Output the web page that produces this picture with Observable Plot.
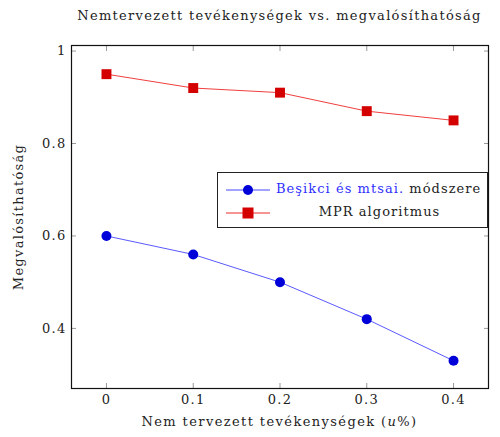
<!DOCTYPE html>
<html>
<head>
<meta charset="utf-8">
<script src="https://cdn.jsdelivr.net/npm/d3@7"></script>
<script src="https://cdn.jsdelivr.net/npm/@observablehq/plot@0.6"></script>
<style>
  body { margin: 0; background: #fff; }
  #wrap { position: relative; width: 500px; height: 437px; font-family: 'DejaVu Serif', serif; color: #222; }
  #title { position: absolute; left: 71px; width: 417px; top: 8px; text-align: center; font-size: 13px; letter-spacing: 1.3px; white-space: nowrap; }
  #xlabel { position: absolute; left: 71px; width: 417px; top: 414px; text-align: center; font-size: 13px; letter-spacing: 1.4px; white-space: nowrap; }
  #legend { position: absolute; left: 217px; top: 172px; width: 271px; height: 56px; box-sizing: border-box;
            border: 1px solid #222; background: #fff; font-size: 13px; letter-spacing: 1.05px; }
  #legend .row { position: absolute; left: 0; right: 0; height: 20px; }
  #legend svg { position: absolute; left: 8px; top: 0; }
  #legend .txt { position: absolute; top: 1px; white-space: nowrap; }
</style>
</head>
<body>
<div id="wrap">
  <div id="title">Nemtervezett tevékenységek vs. megvalósíthatóság</div>
  <div id="xlabel">Nem tervezett tevékenységek (<i>u</i>%)</div>
</div>
<script>
// Share of unplanned activities (u) and the resulting feasibility of each method
const uValues = [0, 0.1, 0.2, 0.3, 0.4];
const besikci = [0.60, 0.56, 0.50, 0.42, 0.33];
const mpr = [0.95, 0.92, 0.91, 0.87, 0.85];

const xTicks = [0, 0.1, 0.2, 0.3, 0.4];
const yTicks = [0.4, 0.6, 0.8, 1];

const seriesNames = ["Beşikci és mtsai. módszere", "MPR algoritmus"];
const blue = "#0000d8";
const red = "#d40000";

const rowsB = uValues.map((u, i) => ({u, v: besikci[i]}));
const rowsM = uValues.map((u, i) => ({u, v: mpr[i]}));

const fmt = d => d === 0 ? "0" : d === 1 ? "1" : d.toFixed(1);

const chart = Plot.plot({
  width: 500,
  height: 437,
  marginTop: 45,
  marginBottom: 49,
  marginLeft: 71,
  marginRight: 12,
  style: {fontFamily: "'DejaVu Serif', serif", fontSize: "13px", color: "#222", background: "transparent", letterSpacing: "1.3px"},
  x: {domain: [-0.0403, 0.4403]},
  y: {domain: [0.27, 1.012]},
  marks: [
    // inward ticks on all four sides
    Plot.axisX(xTicks, {anchor: "bottom", tickSize: -5, tickFormat: fmt, tickPadding: 11, stroke: "#999", label: null, fontSize: 13}),
    Plot.axisX(xTicks, {anchor: "top", tickSize: -5, tickFormat: () => "", stroke: "#999", label: null}),
    Plot.axisY(yTicks, {anchor: "left", tickSize: -5, tickFormat: fmt, tickPadding: 10, stroke: "#999",
      label: "Megvalósíthatóság", labelAnchor: "center", labelArrow: "none", labelOffset: 58, fontSize: 13}),
    Plot.axisY(yTicks, {anchor: "right", tickSize: -5, tickFormat: () => "", stroke: "#999", label: null}),
    Plot.frame({stroke: "#111", strokeWidth: 1.2}),
    Plot.line(rowsB, {x: "u", y: "v", stroke: "#4646ff", strokeWidth: 0.9}),
    Plot.dot(rowsB, {x: "u", y: "v", r: 5, fill: blue, symbol: "circle"}),
    Plot.line(rowsM, {x: "u", y: "v", stroke: "#ee2828", strokeWidth: 0.9}),
    Plot.dot(rowsM, {x: "u", y: "v", r: 5.6, fill: red, symbol: "square"})
  ]
});
chart.style.position = "absolute";
chart.style.left = "0";
chart.style.top = "0";
const wrap = document.getElementById("wrap");
wrap.insertBefore(chart, wrap.firstChild);

// legend box over the upper right of the plot area
const legend = document.createElement("div");
legend.id = "legend";
const legendRows = [
  {color: blue, line: "#4646ff", sym: "circle", html: '<span style="color:#3030ff">Beşikci és mtsai.</span> módszere', left: 58, center: false},
  {color: red, line: "#ee2828", sym: "square", html: seriesNames[1], left: 58, center: true}
];
legendRows.forEach((r, i) => {
  const row = document.createElement("div");
  row.className = "row";
  row.style.top = (7 + i * 23) + "px";
  const symbol = r.sym === "circle"
    ? `<circle cx="22" cy="10" r="5" fill="${r.color}"/>`
    : `<rect x="16.5" y="4.5" width="11" height="11" fill="${r.color}"/>`;
  const txtStyle = r.center ? `left:${r.left}px;right:4px;text-align:center` : `left:${r.left}px`;
  row.innerHTML = `<svg width="44" height="20"><line x1="0" x2="44" y1="10" y2="10" stroke="${r.line}" stroke-width="1"/>${symbol}</svg><span class="txt" style="${txtStyle}">${r.html}</span>`;
  legend.appendChild(row);
});
wrap.appendChild(legend);
</script>
</body>
</html>
